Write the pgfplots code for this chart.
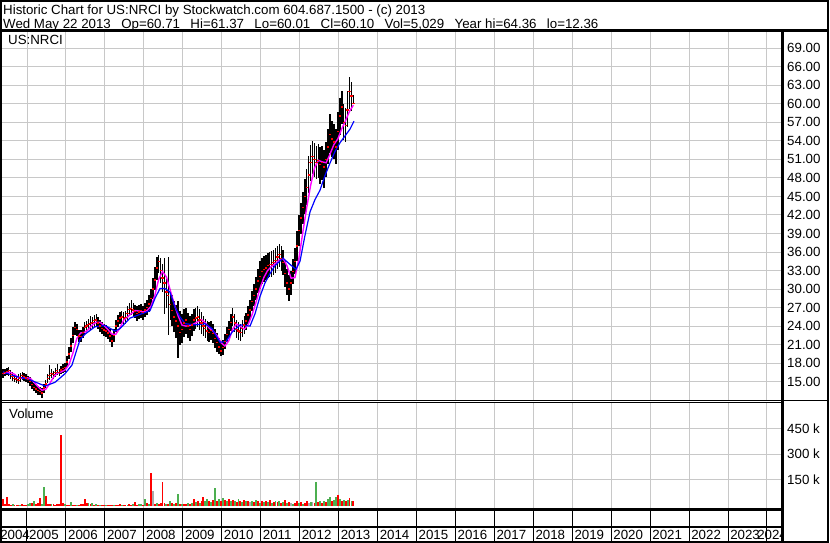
\documentclass[border=0pt]{standalone}
\usepackage{fontspec}
\setmainfont{Liberation Sans}
\usepackage{pgfplots}
\usepackage{pgfplotstable}
\pgfplotsset{compat=1.18}
\definecolor{gridgray}{RGB}{200,200,200}
\definecolor{volgreen}{RGB}{76,175,80}
\definecolor{volred}{RGB}{255,0,0}
\definecolor{volgray}{RGB}{170,170,170}
\definecolor{mag}{RGB}{255,0,255}
\definecolor{mablue}{RGB}{0,0,255}
\newcommand{\cf}{\fontsize{13.3bp}{16bp}\selectfont}
\newcommand{\gap}{\hspace{10.4bp}}
\begin{document}
\pgfplotstableread{
c h l
16.3 17.0 15.6
16.5 17.1 15.9
16.7 17.2 16.1
16.8 17.3 16.0
16.2 16.9 15.5
15.8 16.5 15.1
15.5 16.3 14.9
15.4 16.0 14.8
15.2 16.2 14.7
15.6 16.4 15.0
16.0 16.6 15.3
15.8 16.4 15.1
15.6 16.2 14.9
15.4 16.0 14.8
15.0 15.7 14.3
14.5 15.2 13.8
14.1 14.8 13.5
13.8 14.5 13.1
13.6 14.3 12.9
13.4 14.1 12.8
13.2 14.0 12.3
14.0 14.6 13.2
14.6 15.3 13.9
15.5 16.2 14.8
16.0 17.7 15.3
16.3 17.0 15.6
16.2 16.8 15.5
16.5 17.2 15.8
16.8 17.9 16.1
16.5 17.1 15.9
16.9 17.5 16.2
17.1 17.8 16.4
17.3 18.1 16.6
18.2 19.2 17.4
19.5 20.6 18.6
20.8 22.0 19.8
22.5 23.8 21.3
23.8 24.6 22.6
23.5 24.4 22.4
22.4 23.4 21.4
22.3 23.3 21.5
23.0 23.9 22.0
23.8 24.7 22.8
24.0 24.9 23.1
24.3 25.2 23.3
24.4 25.7 23.4
24.6 25.5 23.7
24.9 25.8 23.9
25.0 25.9 24.0
24.5 25.5 23.6
24.0 25.0 23.0
23.6 24.6 22.7
23.4 24.4 22.4
23.2 24.2 22.2
22.9 23.9 21.9
22.4 23.5 21.4
21.6 22.8 20.7
22.5 23.6 21.5
24.0 25.0 23.0
24.8 25.8 23.8
25.3 26.3 24.3
25.5 26.5 24.5
25.2 26.3 24.2
25.4 26.5 24.4
26.0 27.2 25.0
26.7 27.8 25.7
26.9 28.3 25.8
26.6 27.7 25.5
26.4 27.5 25.3
26.0 27.2 24.8
26.3 27.4 25.1
26.5 27.6 25.3
26.2 27.3 25.0
26.6 27.8 25.4
27.0 28.2 25.8
27.6 29.0 26.3
28.5 30.0 27.0
30.0 31.8 28.4
31.5 33.5 29.8
33.4 35.2 31.5
34.5 35.6 32.6
33.0 35.0 31.0
31.8 34.0 29.6
31.0 35.0 26.0
29.5 32.0 27.0
29.0 35.2 22.6
27.5 30.0 25.0
26.5 29.0 24.0
25.5 28.0 23.0
24.8 27.5 22.0
24.0 28.0 18.8
23.0 26.5 21.0
23.5 26.0 21.2
24.5 26.8 22.2
25.0 27.0 22.8
24.0 26.2 22.0
23.5 25.6 21.6
24.2 26.0 22.4
25.0 26.8 23.2
25.3 27.0 23.6
25.5 27.2 23.8
25.0 26.8 23.3
24.5 26.3 22.8
24.0 25.7 22.4
23.6 25.2 22.0
23.2 24.8 21.6
23.0 24.6 21.4
23.3 24.9 21.8
22.8 24.4 21.2
22.0 23.6 20.5
21.3 22.9 19.8
20.6 22.0 19.5
20.0 21.4 19.2
20.5 21.8 19.4
21.5 22.8 20.3
22.6 23.9 21.4
23.5 24.9 22.2
24.6 26.0 23.2
25.5 27.0 24.0
24.5 26.0 23.0
23.5 25.0 22.0
23.2 24.6 21.8
23.0 24.4 21.6
23.6 25.0 22.2
24.2 25.6 22.8
24.8 26.2 23.4
25.8 27.3 24.3
26.6 28.2 25.0
28.0 29.7 26.4
29.0 30.8 27.3
30.0 31.9 28.2
31.3 33.2 29.4
32.0 34.6 30.0
32.8 35.0 30.8
33.2 35.3 31.2
33.4 35.5 31.4
33.8 35.8 31.8
34.0 36.0 32.0
34.0 36.1 31.9
34.3 36.3 32.3
34.6 36.6 32.6
35.2 37.0 33.2
35.6 37.3 33.6
35.0 36.9 33.0
34.3 36.3 32.2
32.5 34.6 30.4
31.0 33.2 29.0
30.0 32.2 28.0
31.0 33.0 29.0
32.8 34.8 30.8
34.5 36.6 32.4
37.0 39.4 34.6
39.5 42.0 37.0
41.5 44.0 39.0
43.2 45.8 40.6
45.0 47.8 42.2
46.5 49.5 43.6
48.5 51.5 45.5
50.5 53.3 47.5
51.5 54.0 48.6
51.0 53.6 48.2
50.5 53.2 47.8
50.8 53.5 48.0
50.2 53.0 47.0
50.5 53.2 47.6
49.8 52.6 46.3
51.0 53.8 48.2
53.0 56.0 50.2
55.0 58.4 52.0
54.3 57.2 51.4
53.8 56.8 51.0
53.0 56.0 50.2
55.5 58.6 52.6
58.0 61.0 55.0
59.5 62.0 56.8
57.0 60.0 54.2
56.5 59.4 53.8
59.0 62.0 56.2
62.0 64.4 59.2
61.3 63.6 58.8
60.1 61.4 60.0
}\pricedata
\pgfplotstableread{
i m
0 16.3
2 16.5
4 16.5
6 16.2
8 15.62
10 15.54
12 15.64
14 15.56
16 14.92
18 14.2
20 13.62
22 13.76
24 14.66
26 15.72
28 16.36
30 16.58
32 16.92
34 17.8
36 19.66
38 22.02
40 22.9
42 23.0
44 23.48
46 24.22
48 24.64
50 24.6
52 24.1
54 23.42
56 22.7
58 22.68
60 23.64
62 24.96
64 25.48
66 26.04
68 26.52
70 26.44
72 26.28
74 26.52
76 27.18
78 28.92
80 31.58
82 32.84
84 31.96
86 29.76
88 27.6
90 25.66
92 24.16
94 24.0
96 24.1
98 24.34
100 24.7
102 25.06
104 24.52
106 23.66
108 23.18
110 22.48
112 21.34
114 20.78
116 21.62
118 23.54
120 24.32
122 23.94
124 23.5
126 24.28
128 25.88
130 27.88
132 30.06
134 31.86
136 33.04
138 33.68
140 34.14
142 34.74
144 34.94
146 33.68
148 31.76
150 31.86
152 34.96
154 39.14
156 43.14
158 46.74
160 49.6
162 50.86
164 50.6
166 50.46
168 51.86
170 53.42
172 54.32
174 55.96
176 57.3
178 58.8
180 59.78
}\magdata
\pgfplotstableread{
i v t
0 40 0
1 12 0
2 50 0
3 8 0
4 6 0
5 8 1
6 5 0
7 6 0
8 7 0
9 5 1
10 9 0
11 6 0
12 5 0
13 8 1
14 15 1
15 14 0
16 27 1
17 12 0
18 15 0
19 44 0
20 12 1
21 108 1
22 56 0
23 10 0
24 12 0
25 8 1
26 10 0
27 6 0
28 8 0
29 12 0
30 410 0
31 14 0
32 8 1
33 6 0
34 7 0
35 20 1
36 6 0
37 5 0
38 6 1
39 7 0
40 8 0
41 9 0
42 40 0
43 15 0
44 14 1
45 10 0
46 15 1
47 6 0
48 10 1
49 5 0
50 7 1
51 5 0
52 6 0
53 7 1
54 5 0
55 6 0
56 7 0
57 5 1
58 6 0
59 5 0
60 8 0
61 6 1
62 5 0
63 7 0
64 6 1
65 8 0
66 6 0
67 9 1
68 20 0
69 6 0
70 8 1
71 10 1
72 7 0
73 40 1
74 15 0
75 12 1
76 188 0
77 85 2
78 12 0
79 15 1
80 10 0
81 14 0
82 136 0
83 18 0
84 10 1
85 12 0
86 27 1
87 14 0
88 10 1
89 16 0
90 69 1
91 10 0
92 8 1
93 12 0
94 9 0
95 14 1
96 10 0
97 18 1
98 40 0
99 22 1
100 30 0
101 18 1
102 25 0
103 50 0
104 28 1
105 37 1
106 30 0
107 22 1
108 35 0
109 104 1
110 30 0
111 38 1
112 28 0
113 46 1
114 35 0
115 30 1
116 40 0
117 25 1
118 36 0
119 30 1
120 22 0
121 38 1
122 28 0
123 20 1
124 32 0
125 25 1
126 30 0
127 20 2
128 28 1
129 22 0
130 35 1
131 25 0
132 18 1
133 30 0
134 22 1
135 28 0
136 20 1
137 34 0
138 18 1
139 24 0
140 30 1
141 20 0
142 26 1
143 18 0
144 22 1
145 32 0
146 15 1
147 20 0
148 18 2
149 12 1
150 16 0
151 25 0
152 15 1
153 20 0
154 12 1
155 18 0
156 28 0
157 15 2
158 22 1
159 20 2
160 18 0
161 136 1
162 20 0
163 25 1
164 18 0
165 30 1
166 22 0
167 40 1
168 54 1
169 30 0
170 35 1
171 50 1
172 60 0
173 40 1
174 30 0
175 35 1
176 28 0
177 32 1
178 44 0
179 30 1
180 25 0
}\voldata
\begin{tikzpicture}
\useasboundingbox (0,0) rectangle (830bp,543bp);
\fill[white] (0,0) rectangle (830bp,543bp);
% price panel
\begin{axis}[at={(2bp,142.5bp)}, anchor=south west, scale only axis,
  width=780bp, height=369.5bp,
  xmin=2004.358, xmax=2024.384, ymin=11.955, ymax=71.8,
  xtick={2005,...,2024}, ytick={15,18,...,69},
  grid=major, grid style={gridgray, line width=1bp},
  axis line style={draw=none}, major tick length=0pt,
  xticklabel=\empty,
  yticklabel pos=right,
  yticklabel style={font=\cf, anchor=west, inner sep=0pt, xshift=5bp},
  /pgf/number format/.cd, fixed, fixed zerofill, precision=2, assume math mode=true]
\addplot[only marks, mark=-, mark size=1.1bp, mark options={volred, line width=1.4bp},
  error bars/.cd, y dir=both, y explicit, error bar style={black, line width=1.6bp}, error mark=none]
  table[x expr=2004.38+0.05*\coordindex, y=c,
        y error plus expr=\thisrow{h}-\thisrow{c},
        y error minus expr=\thisrow{c}-\thisrow{l}] {\pricedata};
\addplot[mag, line width=1.4bp, mark=none] table[x expr=2004.38+0.05*\thisrow{i}, y=m] {\magdata};
\addplot[mablue, line width=1.2bp, mark=none] coordinates {
(2004.384,16.6) (2004.692,15.9) (2005.077,15.3) (2005.462,14.3) (2005.719,14.9)
(2005.976,16.3) (2006.155,17.7) (2006.284,20.3) (2006.361,21.8) (2006.489,22.7)
(2006.746,23.9) (2007.003,24.1) (2007.259,23.2) (2007.388,23.6) (2007.644,25.3)
(2007.901,25.9) (2008.158,26.5) (2008.286,28.5) (2008.415,30.1) (2008.543,30.1)
(2008.671,29.5) (2008.800,27.1) (2008.928,25.5) (2009.056,24.4) (2009.313,24.2)
(2009.570,24.4) (2009.750,23.6) (2009.955,21.4) (2010.109,21.5) (2010.263,23.0)
(2010.469,24.2) (2010.725,24.0) (2010.854,26.0) (2010.982,28.8) (2011.110,31.0)
(2011.238,32.5) (2011.367,33.8) (2011.572,35.0) (2011.752,34.0) (2011.906,33.2)
(2012.009,34.5) (2012.137,38.7) (2012.266,42.5) (2012.394,44.5) (2012.522,46.0)
(2012.651,48.4) (2012.779,50.4) (2012.908,52.3) (2013.036,53.7) (2013.164,54.8)
(2013.292,55.9) (2013.395,57.2)};
\end{axis}
% volume panel
\begin{axis}[at={(2bp,33.5bp)}, anchor=south west, scale only axis,
  width=780bp, height=107bp,
  xmin=2004.358, xmax=2024.384, ymin=-21.5, ymax=600,
  xtick={2005,...,2024}, ytick={150,300,450}, yticklabels={150 k,300 k,450 k},
  grid=major, grid style={gridgray, line width=1bp},
  axis line style={draw=none}, major tick length=0pt,
  xticklabel=\empty,
  yticklabel pos=right,
  yticklabel style={font=\cf, anchor=west, inner sep=0pt, xshift=5bp}]
\addplot[ycomb, volred, line width=1.9bp, mark=none, restrict expr to domain={\thisrow{t}}{-0.5:0.5}]
  table[x expr=2004.38+0.05*\thisrow{i}, y=v] {\voldata};
\addplot[ycomb, volgreen, line width=1.9bp, mark=none, restrict expr to domain={\thisrow{t}}{0.5:1.5}]
  table[x expr=2004.38+0.05*\thisrow{i}, y=v] {\voldata};
\addplot[ycomb, volgray, line width=1.9bp, mark=none, restrict expr to domain={\thisrow{t}}{1.5:2.5}]
  table[x expr=2004.38+0.05*\thisrow{i}, y=v] {\voldata};
\end{axis}
% date strip
\begin{axis}[at={(2bp,1.5bp)}, anchor=south west, scale only axis,
  width=780bp, height=32bp,
  xmin=2004.358, xmax=2024.384, ymin=0, ymax=1,
  xtick={2004,...,2024}, ytick=\empty, xticklabel=\empty,
  xmajorgrids, grid style={black, line width=1bp},
  axis line style={draw=none}, major tick length=0pt]
\pgfplotsinvokeforeach{2005,...,2023}{
  \node[anchor=base west, inner sep=0pt, xshift=2bp, font=\cf] at (axis cs:#1,0.07) {#1};
}
\node[anchor=base west, inner sep=0pt, xshift=12bp, font=\cf] at (axis cs:2004,0.07) {2004};
\node[anchor=base west, inner sep=0pt, xshift=-10bp, font=\cf] at (axis cs:2024,0.07) {2024};
\end{axis}
\begin{scope}[x=1bp,y=1bp]
\draw[line width=2bp] (1,1) rectangle (827.5,542);
\draw[line width=3bp] (0,512.2) -- (829,512.2);
\draw[line width=3bp] (782.3,0) -- (782.3,512.2);
\draw[line width=1.2bp] (0,142.6) -- (829,142.6);
\draw[line width=1.2bp] (0,140.3) -- (782,140.3);
\draw[line width=3bp] (0,33.3) -- (782,33.3);
\draw[line width=2bp] (0,16.2) -- (782,16.2);
\node[anchor=base west, inner sep=0pt, font=\cf] at (3,528) {Historic Chart for US:NRCI by Stockwatch.com 604.687.1500 - (c) 2013};
\node[anchor=base west, inner sep=0pt, font=\cf] at (3,514.7) {Wed May 22 2013\gap Op=60.71\gap Hi=61.37\gap Lo=60.01\gap Cl=60.10\gap Vol=5,029\gap Year hi=64.36\gap lo=12.36};
\node[anchor=base west, inner sep=0pt, font=\cf] at (8,498) {US:NRCI};
\node[anchor=base west, inner sep=0pt, font=\cf] at (9,125) {Volume};
\end{scope}
\end{tikzpicture}
\end{document}
